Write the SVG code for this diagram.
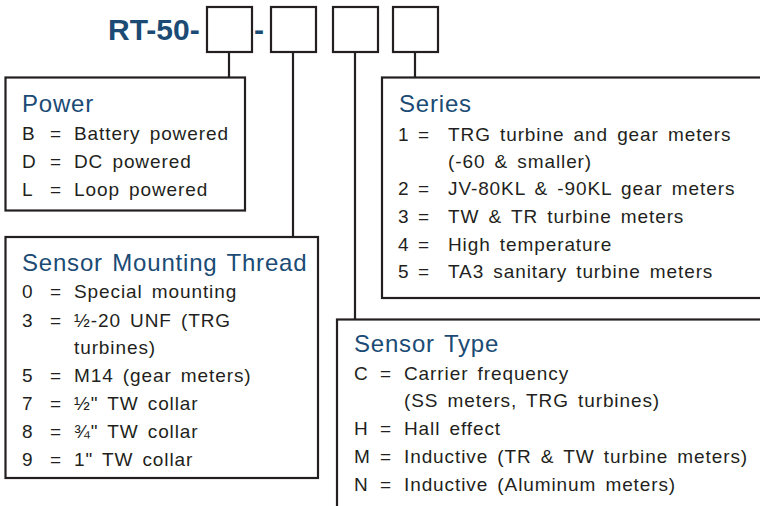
<svg xmlns="http://www.w3.org/2000/svg" width="760" height="506" viewBox="0 0 760 506">
<style>
.bx{fill:#fff;stroke:#231f20;stroke-width:2.2}
.sq{fill:#fff;stroke:#231f20;stroke-width:2.2}
.ln{stroke:#231f20;stroke-width:2.2;fill:none}
.hd{font-family:"Liberation Sans",Arial,sans-serif;font-size:24px;fill:#1b4b75;letter-spacing:0.8px;word-spacing:2px}
.it{font-family:"Liberation Sans",Arial,sans-serif;font-size:19px;fill:#231f20;letter-spacing:0.9px;word-spacing:3px}
.ti{font-family:"Liberation Sans",Arial,sans-serif;font-size:30px;font-weight:bold;fill:#1b4b75}
</style>
<rect width="760" height="506" fill="#fff"/>
<g id="connectors">
<line class="ln" x1="229" y1="52" x2="229" y2="78"/>
<line class="ln" x1="293" y1="52" x2="293" y2="237"/>
<line class="ln" x1="355" y1="52" x2="355" y2="320"/>
<line class="ln" x1="415" y1="52" x2="415" y2="78"/>
</g>
<g id="code">
<text class="ti" x="108" y="40">RT-50-</text>
<text class="ti" x="254" y="40">-</text>
<rect class="sq" x="207" y="7" width="45" height="45"/>
<rect class="sq" x="271" y="7" width="45" height="45"/>
<rect class="sq" x="333" y="7" width="45" height="45"/>
<rect class="sq" x="393" y="7" width="45" height="45"/>
</g>
<g id="power">
<rect class="bx" x="5.5" y="77.5" width="239.5" height="133"/>
<text class="hd" x="22" y="112">Power</text>
<text class="it"><tspan x="22" y="140">B</tspan><tspan x="50" y="140">=</tspan><tspan x="74" y="140">Battery powered</tspan></text>
<text class="it"><tspan x="22" y="168">D</tspan><tspan x="50" y="168">=</tspan><tspan x="74" y="168">DC powered</tspan></text>
<text class="it"><tspan x="22" y="196">L</tspan><tspan x="50" y="196">=</tspan><tspan x="74" y="196">Loop powered</tspan></text>
</g>
<g id="thread">
<rect class="bx" x="5.5" y="237" width="312.5" height="241"/>
<text class="hd" x="22" y="271">Sensor Mounting Thread</text>
<text class="it"><tspan x="22" y="298">0</tspan><tspan x="50" y="298">=</tspan><tspan x="74" y="298">Special mounting</tspan></text>
<text class="it"><tspan x="22" y="327">3</tspan><tspan x="50" y="327">=</tspan><tspan x="74" y="327">½-20 UNF (TRG</tspan></text>
<text class="it"><tspan x="74" y="354">turbines)</tspan></text>
<text class="it"><tspan x="22" y="382">5</tspan><tspan x="50" y="382">=</tspan><tspan x="74" y="382">M14 (gear meters)</tspan></text>
<text class="it"><tspan x="22" y="410">7</tspan><tspan x="50" y="410">=</tspan><tspan x="74" y="410">½" TW collar</tspan></text>
<text class="it"><tspan x="22" y="438">8</tspan><tspan x="50" y="438">=</tspan><tspan x="74" y="438">¾" TW collar</tspan></text>
<text class="it"><tspan x="22" y="466">9</tspan><tspan x="50" y="466">=</tspan><tspan x="74" y="466">1" TW collar</tspan></text>
</g>
<g id="series">
<rect class="bx" x="382" y="77.5" width="390" height="220.5"/>
<text class="hd" x="399" y="112">Series</text>
<text class="it"><tspan x="398" y="141">1</tspan><tspan x="418" y="141">=</tspan><tspan x="448" y="141">TRG turbine and gear meters</tspan></text>
<text class="it"><tspan x="448" y="168">(-60 &amp; smaller)</tspan></text>
<text class="it"><tspan x="398" y="195">2</tspan><tspan x="418" y="195">=</tspan><tspan x="448" y="195">JV-80KL &amp; -90KL gear meters</tspan></text>
<text class="it"><tspan x="398" y="223">3</tspan><tspan x="418" y="223">=</tspan><tspan x="448" y="223">TW &amp; TR turbine meters</tspan></text>
<text class="it"><tspan x="398" y="251">4</tspan><tspan x="418" y="251">=</tspan><tspan x="448" y="251">High temperature</tspan></text>
<text class="it"><tspan x="398" y="278">5</tspan><tspan x="418" y="278">=</tspan><tspan x="448" y="278">TA3 sanitary turbine meters</tspan></text>
</g>
<g id="sensortype">
<rect class="bx" x="337" y="319.5" width="435" height="200"/>
<text class="hd" x="354" y="352">Sensor Type</text>
<text class="it"><tspan x="354" y="380">C</tspan><tspan x="380" y="380">=</tspan><tspan x="404" y="380">Carrier frequency</tspan></text>
<text class="it"><tspan x="404" y="407">(SS meters, TRG turbines)</tspan></text>
<text class="it"><tspan x="354" y="435">H</tspan><tspan x="380" y="435">=</tspan><tspan x="404" y="435">Hall effect</tspan></text>
<text class="it"><tspan x="354" y="463">M</tspan><tspan x="380" y="463">=</tspan><tspan x="404" y="463">Inductive (TR &amp; TW turbine meters)</tspan></text>
<text class="it"><tspan x="354" y="491">N</tspan><tspan x="380" y="491">=</tspan><tspan x="404" y="491">Inductive (Aluminum meters)</tspan></text>
</g>
</svg>
